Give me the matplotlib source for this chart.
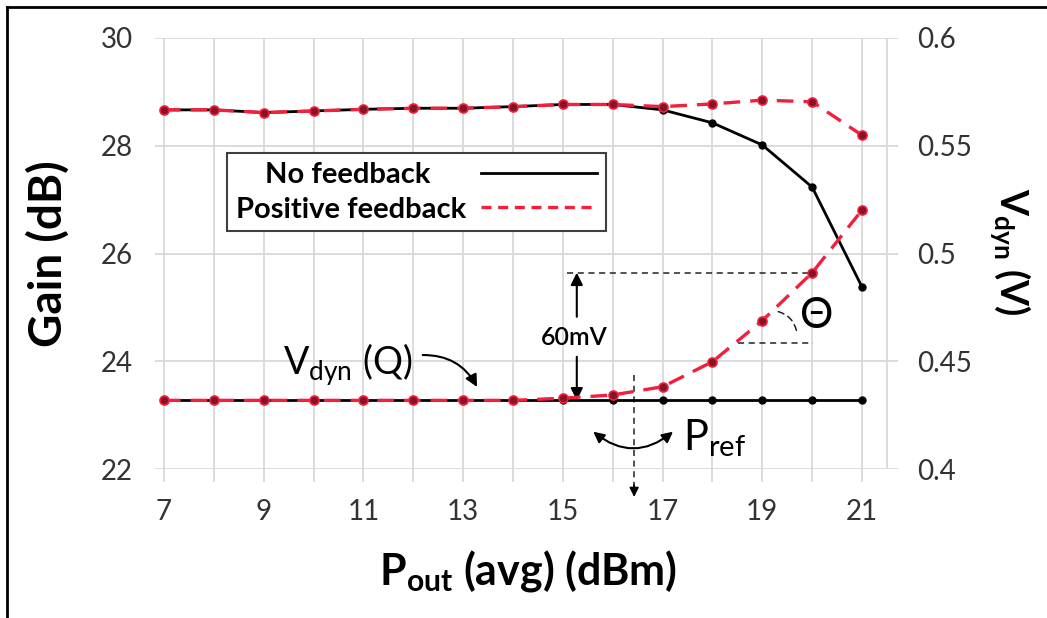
import matplotlib
matplotlib.use("Agg")
import matplotlib.pyplot as plt
from matplotlib.lines import Line2D

plt.rcParams['font.family'] = ['Lato', 'DejaVu Sans']
plt.rcParams['mathtext.default'] = 'regular'

# values
pout = [7, 8, 9, 10, 11, 12, 13, 14, 15, 16, 17, 18, 19, 20, 21]
gain_nofb = [28.66, 28.66, 28.61, 28.64, 28.67, 28.69, 28.69, 28.72, 28.76, 28.76,
             28.66, 28.42, 28.01, 27.23, 25.38]
gain_posfb = [28.66, 28.66, 28.61, 28.64, 28.67, 28.69, 28.69, 28.72, 28.76, 28.76,
              28.72, 28.77, 28.84, 28.81, 28.19]
vdyn_nofb = [0.432, 0.432, 0.432, 0.432, 0.432, 0.432, 0.432, 0.432, 0.432, 0.432,
             0.432, 0.432, 0.432, 0.432, 0.432]
vdyn_posfb = [0.432, 0.432, 0.432, 0.432, 0.432, 0.432, 0.432, 0.432, 0.433, 0.4345,
              0.4383, 0.4499, 0.4689, 0.4911, 0.5201]
gain_ticks = [22, 24, 26, 28, 30]
vdyn_ticks = [0.4, 0.45, 0.5, 0.55, 0.6]
vdyn_ticklabels = ['0.4', '0.45', '0.5', '0.55', '0.6']

RED = '#f2203c'
RED_FACE = '#861426'
GRID = '#d9d9d9'
TICKC = '#333333'
DASH = (0, (5, 3))
GUIDE = (0, (4, 3))

fig = plt.figure(figsize=(10.47, 6.18), dpi=100)
ax = fig.add_axes([0.148, 0.2403, 0.7096, 0.699])
ax2 = ax.twinx()

# gain curves (left axis)
ax.plot(pout, gain_nofb, color='black', lw=2.0, marker='o', ms=5, zorder=3)
ax.plot(pout, gain_posfb, color=RED, lw=2.4, ls=DASH, marker='o', ms=6.5,
        mfc=RED_FACE, mec=RED, mew=1.2, zorder=4)

# Vdyn curves (right axis)
ax2.plot(pout, vdyn_nofb, color='black', lw=2.0, marker='o', ms=5, zorder=3)
ax2.plot(pout, vdyn_posfb, color=RED, lw=2.4, ls=DASH, marker='o', ms=6.5,
         mfc=RED_FACE, mec=RED, mew=1.2, zorder=4)

ax.set_xlim(6.82, 21.72)
ax.set_ylim(22, 30)
ax2.set_ylim(0.4, 0.6)

ax.set_xticks(pout)
ax.set_xticklabels([str(p) if p % 2 else '' for p in pout])
ax.set_yticks(gain_ticks)
ax2.set_yticks(vdyn_ticks)
ax2.set_yticklabels(vdyn_ticklabels)

for a in (ax, ax2):
    for s in a.spines.values():
        s.set_visible(False)
ax.set_axisbelow(True)
ax.grid(True, color=GRID, lw=1.3)
ax.axvline(21.5, color=GRID, lw=1.3, zorder=0)
ax.tick_params(axis='x', length=9, width=1.3, color=GRID, pad=12,
               labelsize=20, labelcolor=TICKC)
ax.tick_params(axis='y', length=0, pad=16, labelsize=20, labelcolor=TICKC)
ax2.tick_params(axis='y', length=0, pad=14, labelsize=20, labelcolor=TICKC)

# axis titles
fig.text(48 / 1047, 1 - 254 / 618, 'Gain (dB)', rotation=90, ha='center', va='center',
         fontsize=33, fontweight='bold')
fig.text(1010 / 1047, 1 - 252 / 618, r'V$_{dyn}$ (V)', rotation=270, ha='center',
         va='center', fontsize=27, fontweight='bold')
fig.text(528 / 1047, 1 - 585 / 618, r'P$_{out}$ (avg) (dBm)', ha='center', va='baseline',
         fontsize=31, fontweight='bold')

# legend (trailing spaces centre the shorter label like the original)
handles = [Line2D([], [], color='black', lw=2.0),
           Line2D([], [], color=RED, lw=2.4, ls=(0, (3, 2)))]
leg = ax2.legend(handles, ['No feedback     ', 'Positive feedback'], loc='upper left',
                 bbox_to_anchor=(0.097, 0.7326), markerfirst=False, fancybox=False,
                 framealpha=1, edgecolor='#404040', prop=dict(weight='bold', size=21),
                 handlelength=4.0, handletextpad=0.5, borderpad=0.3, labelspacing=0.3,
                 borderaxespad=0)
leg.get_frame().set_linewidth(1.5)

# annotations
arrow_kw = dict(arrowstyle='-|>', color='black', lw=1.5, mutation_scale=18,
                shrinkA=0, shrinkB=0)

# 60 mV step
x60 = 15.28
ax2.plot([15.08, pout[-2]], [vdyn_posfb[-2], vdyn_posfb[-2]], color='#222222',
         lw=1.1, ls=GUIDE)
ax2.annotate('', xy=(x60, vdyn_posfb[-2]), xytext=(x60, 0.4707), arrowprops=arrow_kw)
ax2.annotate('', xy=(x60, vdyn_nofb[8]), xytext=(x60, 0.4522), arrowprops=arrow_kw)
ax2.text(x60 - 0.05, 0.4609, '60mV', ha='center', va='center', fontsize=18,
         fontweight='semibold')

# theta
ax2.plot([18.51, 20.02], [0.4587, 0.4587], color='#222222', lw=1.1, ls=GUIDE)
ax2.annotate('', xy=(19.69, 0.4638), xytext=(19.32, 0.4731),
             arrowprops=dict(arrowstyle='-', color='#222222', lw=1.1, ls=GUIDE,
                             connectionstyle='arc3,rad=-0.3', shrinkA=0, shrinkB=0))
ax2.text(20.1, 0.4710, '\u0398', ha='center', va='center', fontsize=30)

# Vdyn(Q)
ax2.text(9.39, 0.4437, r'V$_{dyn}$ (Q)', ha='left', va='baseline', fontsize=27)
ax2.annotate('', xy=(13.28, 0.4382), xytext=(12.19, 0.4530),
             arrowprops=dict(arrow_kw, connectionstyle='arc3,rad=-0.3'))

# P_ref
xref = 16.43
ax2.plot([xref, xref], [0.4437, 0.392], color='#222222', lw=1.1, ls=GUIDE, clip_on=False)
ax2.annotate('', xy=(xref, 0.3873), xytext=(xref, 0.393), annotation_clip=False,
             arrowprops=dict(arrow_kw, lw=1.1, mutation_scale=14))
ax2.annotate('', xy=(17.21, 0.4175), xytext=(15.61, 0.4175),
             arrowprops=dict(arrowstyle='<|-|>', color='black', lw=1.5, mutation_scale=16,
                             shrinkA=0, shrinkB=0, connectionstyle='arc3,rad=0.4'))
ax2.text(17.41, 0.409, r'P$_{ref}$', ha='left', va='baseline', fontsize=30)

# frame lines of the original picture
fx, fy = 7 / 1047, 1 - 7 / 618
fig.add_artist(Line2D([fx, fx], [0, fy], color='black', lw=2, transform=fig.transFigure))
fig.add_artist(Line2D([fx, 1], [fy, fy], color='black', lw=2, transform=fig.transFigure))

fig.savefig('out.png', dpi=100)
